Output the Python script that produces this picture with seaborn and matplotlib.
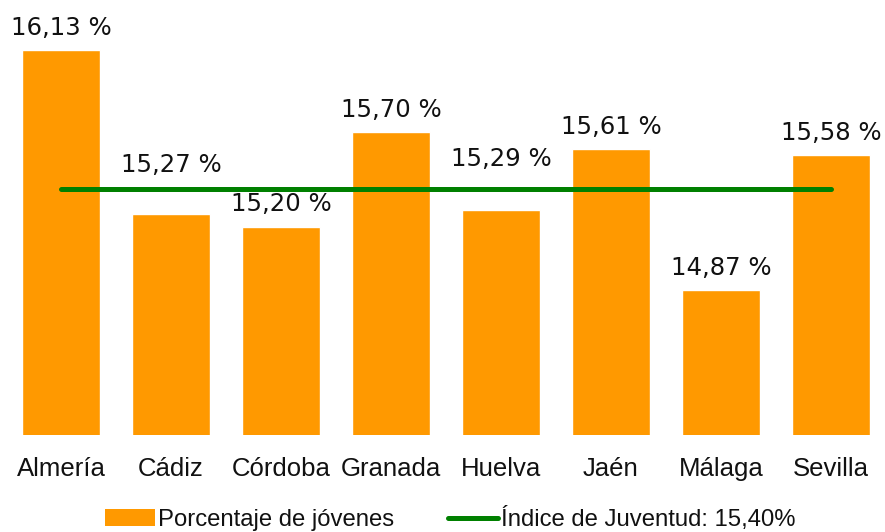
import matplotlib
matplotlib.use("Agg")
import matplotlib.pyplot as plt
import seaborn as sns
import pandas as pd
from matplotlib.patches import Patch
from matplotlib.lines import Line2D

provincias = ["Almería", "Cádiz", "Córdoba", "Granada", "Huelva", "Jaén", "Málaga", "Sevilla"]
porcentaje = [16.13, 15.27, 15.20, 15.70, 15.29, 15.61, 14.87, 15.58]
indice_juventud = 15.40
serie_barras = "Porcentaje de jóvenes"
serie_linea = "Índice de Juventud: 15,40%"

# label offsets above bar tops (points), some raised to avoid the line
label_offsets = [11, 30, 12, 11, 31.5, 11, 11, 11]

sns.set_theme(style="white")
plt.rcParams['font.family'] = ['DejaVu Sans']

df = pd.DataFrame({"provincia": provincias, "valor": porcentaje})

fig = plt.figure(figsize=(8.85, 5.32), dpi=100)
W, H = 885, 532
ymin, ymax = 14.11, 16.30
ax_h = (ymax - ymin) * 190.48
ax = fig.add_axes([6 / W, (H - 435) / H, 880 / W, ax_h / H])

sns.barplot(data=df, x="provincia", y="valor", color="#FF9900", saturation=1,
            width=0.71, ax=ax)
ax.set_ylim(ymin, ymax)
ax.set_xlim(-0.5, 7.5)

xs = list(range(len(provincias)))
ax.plot([xs[0], xs[-1]], [indice_juventud, indice_juventud], color="#008000",
        lw=3.6, solid_capstyle="round", zorder=5)

for x, v, off in zip(xs, porcentaje, label_offsets):
    ax.annotate(f"{v:.2f}".replace(".", ",") + " %", (x, v), xytext=(0, off),
                textcoords="offset points", ha="center", va="baseline",
                fontsize=17.6, color="#111111", family="DejaVu Sans",
                annotation_clip=False)

ax.set_xlabel("")
ax.set_ylabel("")
ax.set_yticks([])
ax.tick_params(axis="x", length=0, pad=15.5)
for lab in ax.get_xticklabels():
    lab.set_fontfamily("Liberation Sans")
    lab.set_fontsize(18.5)
    lab.set_color("#111111")
for s in ax.spines.values():
    s.set_visible(False)

handles = [Patch(facecolor="#FF9900", edgecolor="none"),
           Line2D([0], [0], color="#008000", lw=3.6, solid_capstyle="round")]
leg = fig.legend(handles, [serie_barras, serie_linea], loc="center",
                 bbox_to_anchor=(450 / W, 1 - 519 / H), ncol=2, frameon=False,
                 prop={"family": "Liberation Sans", "size": 17.2},
                 handlelength=2.1, handleheight=0.72, handletextpad=0.12,
                 columnspacing=2.25, borderpad=0, borderaxespad=0)
for t in leg.get_texts():
    t.set_color("#111111")

fig.savefig("out.png", dpi=100)
